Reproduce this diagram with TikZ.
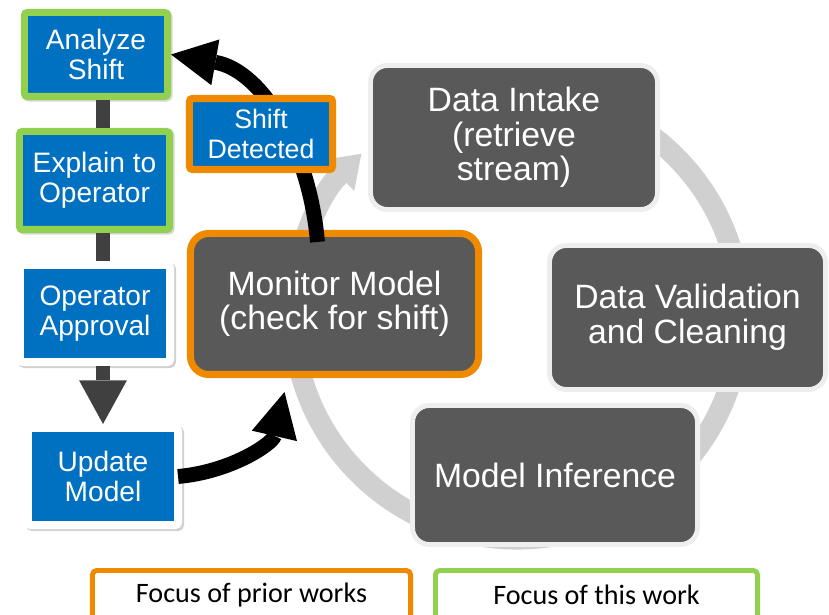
\documentclass[tikz,border=0pt]{standalone}
\usepackage{fontspec}
\setmainfont{Liberation Sans}
\newfontfamily\legendfont{Carlito}
\usetikzlibrary{arrows.meta, positioning, calc, shadows}
\definecolor{BoxBlue}{HTML}{0070C0}
\definecolor{ThisGreen}{HTML}{92D050}
\definecolor{PriorOrange}{HTML}{EE8900}
\definecolor{StageGray}{HTML}{595959}
\definecolor{StageRim}{HTML}{EEEEEE}
\definecolor{RingGray}{HTML}{D0D0D0}
\definecolor{BarGray}{HTML}{404040}

\begin{document}
\begin{tikzpicture}[
    x=0.025cm, y=0.025cm,
    task/.style={align=center, text=white, fill=BoxBlue, line width=5pt, rounded corners=2pt,
      inner sep=2pt, font=\fontsize{20}{21.5}\selectfont},
    taskG/.style={task, draw=ThisGreen,
      drop shadow={shadow xshift=1.2pt, shadow yshift=-1.2pt, opacity=.25, fill=black!60, draw=black!60, line width=5pt}},
    taskW/.style={task, draw=white, line width=5.7pt,
      drop shadow={shadow xshift=1.5pt, shadow yshift=-1.5pt, opacity=.3, fill=black!60, draw=black!60, line width=5.7pt}},
    stage/.style={align=center, text=white, fill=StageGray, draw=StageRim, line width=3.5pt,
      rounded corners=12pt, inner sep=2pt, font=\fontsize{24}{24.5}\selectfont},
    legend/.style={align=center, line width=3.5pt, rounded corners=3pt, inner sep=2pt,
      font=\legendfont\fontsize{20}{24}\selectfont},
    ring/.style={RingGray, line width=0.525cm, -{Triangle[width=31pt, length=22pt, line width=0pt]}},
    bar/.style={BarGray, line width=10.6pt},
    flow/.style={black, line width=10.6pt, -{Triangle[width=33pt, length=32pt, line width=0pt]}},
  ]
  \useasboundingbox (0,0) rectangle (829,-615);
  % cycle ring behind the stages
  \draw[ring] (517,-315) ++(90:5.6cm) arc[start angle=90, end angle=-226, radius=5.6cm];

  % steps on the left
  \node[taskG, minimum width=3.575cm, minimum height=2.1cm] (ana) at (96,-54.5) {Analyze\\Shift};
  \node[taskG, minimum width=3.75cm, minimum height=2.45cm] (expl) at (94.5,-180.5) {Explain to\\Operator};
  \node[taskW, minimum width=3.75cm, minimum height=2.425cm] (appr) at (95,-313.5) {Operator\\Approval};
  \node[taskW, minimum width=3.75cm, minimum height=2.425cm] (upd) at (103,-476.5) {Update\\Model};

  % stages of the cycle
  \node[stage, draw=PriorOrange, line width=5pt, rounded corners=13pt, minimum width=7.2cm,
    minimum height=3.525cm] (mon) at (334.5,-304) {Monitor Model\\(check for shift)};
  \node[stage, minimum width=7.175cm, minimum height=3.6cm] (intake) at (514,-137.5) {Data Intake\\(retrieve\\stream)};
  \node[stage, minimum width=6.9cm, minimum height=3.6cm] (valid) at (687.5,-317.5) {Data Validation\\and Cleaning};
  \node[stage, minimum width=7.125cm, minimum height=3.475cm] (infer) at (555,-475) {Model Inference};

  \draw[bar] (ana.south -| upd) -- (expl.north -| upd);
  \draw[bar] (expl.south -| upd) -- (appr.north -| upd);
  \draw[bar, -{Triangle[width=34pt, length=31pt, line width=0pt]}] (appr.south -| upd) -- (upd.north);

  \coordinate (monin) at ([shift={(-50,-14)}]mon.south);
  \draw[flow] ([shift={(-17,-12)}]mon.north) to[out=95, in=-10] (ana.east);
  \draw[flow] ([shift={(-4,0)}]upd.east) to[out=5, in=-103] (monin);

  \node[task, draw=PriorOrange, minimum width=3.575cm, minimum height=1.775cm,
    font=\fontsize{19}{21.5}\selectfont] (shd) at (261,-134) {Shift\\Detected};

  % legend
  \node[legend, draw=PriorOrange, minimum width=7.95cm, minimum height=1.225cm] (prior) at (251.5,-595) {Focus of prior works};
  \node[legend, draw=ThisGreen, minimum width=8.05cm, minimum height=1.225cm] (this) at (596.5,-595) {Focus of this work};
\end{tikzpicture}
\end{document}
